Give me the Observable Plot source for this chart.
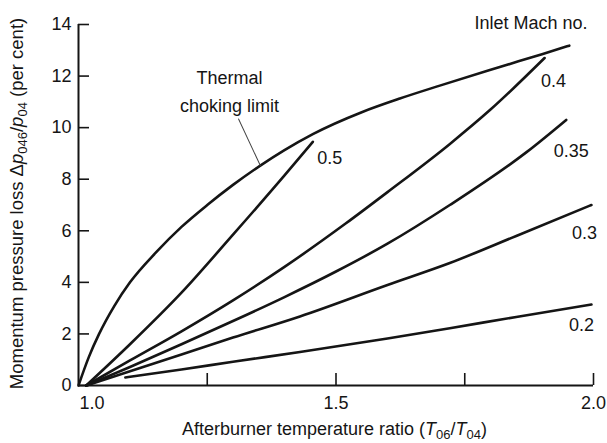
<!DOCTYPE html>
<html><head><meta charset="utf-8">
<script src="https://cdn.jsdelivr.net/npm/d3@7"></script>
<script src="https://cdn.jsdelivr.net/npm/@observablehq/plot@0.6"></script>
<style>
body{margin:0;background:#fff}
#chart svg{font-family:"Liberation Sans",Arial,Helvetica,sans-serif;background:#fff}
</style>
</head><body><div id="chart"></div>
<script>
// ---- data ----
const chokingT    = [1.0, 1.02, 1.04, 1.07, 1.1, 1.15, 1.2, 1.25, 1.3, 1.353, 1.4, 1.455, 1.55, 1.624, 1.7, 1.818, 1.9, 1.953];
const chokingLoss = [0, 1.1, 2.0, 3.1, 4.0, 5.15, 6.15, 7.0, 7.78, 8.53, 9.13, 9.75, 10.6, 11.13, 11.62, 12.35, 12.85, 13.18];

const mach05T    = [1.015, 1.1, 1.2, 1.3, 1.4, 1.455];
const mach05Loss = [0, 1.6, 3.6, 5.85, 8.15, 9.45];

const mach04T    = [1.015, 1.1, 1.2, 1.3, 1.4, 1.52, 1.6, 1.72, 1.8, 1.905];
const mach04Loss = [0, 0.97, 2.1, 3.3, 4.6, 6.3, 7.5, 9.35, 10.7, 12.7];

const mach035T    = [1.015, 1.1, 1.2, 1.3, 1.4, 1.5, 1.6, 1.721, 1.87, 1.947];
const mach035Loss = [0, 0.72, 1.6, 2.5, 3.43, 4.42, 5.5, 7.0, 9.05, 10.3];

const mach03T    = [1.015, 1.1, 1.2, 1.3, 1.43, 1.6, 1.721, 1.85, 1.996];
const mach03Loss = [0, 0.55, 1.2, 1.86, 2.68, 3.9, 4.75, 5.8, 7.0];

const mach02T    = [1.091, 1.2, 1.3, 1.43, 1.6, 1.721, 1.85, 1.996];
const mach02Loss = [0.31, 0.62, 0.92, 1.3, 1.82, 2.22, 2.66, 3.14];

const machLabels = ["0.5", "0.4", "0.35", "0.3", "0.2"];
const yTicks = [0, 2, 4, 6, 8, 10, 12, 14];
const xTickMarks = [1.25, 1.5, 1.75, 2.0];
const xTickLabels = [1.0, 1.5, 2.0];
const xDomain = [1.0, 2.0];
const yDomain = [0, 14];

// ---- build tables ----
const seriesT = [mach05T, mach04T, mach035T, mach03T, mach02T];
const seriesLoss = [mach05Loss, mach04Loss, mach035Loss, mach03Loss, mach02Loss];
const rows = [];
machLabels.forEach((m, i) => seriesT[i].forEach((t, j) => rows.push({mach: m, T: t, loss: seriesLoss[i][j]})));
const chokingRows = chokingT.map((t, j) => ({T: t, loss: chokingLoss[j]}));

// label offsets (px) from each curve's end
const labelOffsets = {"0.5": [17, 16], "0.4": [9, 23], "0.35": [5, 31], "0.3": [-7, 28], "0.2": [-10, 21]};

const W = 607, H = 443, mL = 78, mR = 14, mT = 24, mB = 58;
const plotW = W - mL - mR, plotH = H - mT - mB;
const ink = "#151515";

const leaderShape = {draw(context, l) { context.moveTo(0, 0); context.lineTo(0, -l); }};

const marks = [
  // axes
  Plot.ruleX([xDomain[0]], {stroke: ink, strokeWidth: 2}),
  Plot.ruleY([yDomain[0]], {stroke: ink, strokeWidth: 2}),
  Plot.tickY(yTicks, {y: d => d, stroke: ink, strokeWidth: 1.6, insetRight: plotW - 11}),
  Plot.tickX(xTickMarks, {x: d => d, stroke: ink, strokeWidth: 1.6, insetTop: plotH - 12}),
  Plot.text(yTicks, {y: d => d, frameAnchor: "left", dx: -7, textAnchor: "end", lineAnchor: "middle", text: d => String(d), fill: ink, fontSize: 18}),
  Plot.text(xTickLabels.slice(0, 1), {x: d => d, frameAnchor: "bottom", dy: 18, textAnchor: "start", lineAnchor: "middle", dx: 1, text: d => d3.format(".1f")(d), fill: ink, fontSize: 18}),
  Plot.text(xTickLabels.slice(1), {x: d => d, frameAnchor: "bottom", dy: 18, textAnchor: "middle", lineAnchor: "middle", text: d => d3.format(".1f")(d), fill: ink, fontSize: 18}),
  // curves
  Plot.line(chokingRows, {x: "T", y: "loss", curve: "monotone-x", stroke: ink, strokeWidth: 2.6}),
  Plot.line(rows, {x: "T", y: "loss", z: "mach", curve: "monotone-x", stroke: ink, strokeWidth: 2.6}),
  // curve labels
  ...machLabels.map(m => {
    const last = rows.filter(r => r.mach === m).at(-1);
    return Plot.text([last], {x: "T", y: "loss", text: "mach", dx: labelOffsets[m][0], dy: labelOffsets[m][1], fill: ink, fontSize: 18});
  }),
  // annotations
  Plot.text(["Inlet Mach no."], {frameAnchor: "top-right", textAnchor: "end", lineAnchor: "middle", dx: -6, dy: -1, fill: ink, fontSize: 18}),
  Plot.text(["Thermal\nchoking limit"], {frameAnchor: "top-left", textAnchor: "middle", lineAnchor: "middle", dx: 151, dy: 64.5, lineHeight: 1.55, fill: ink, fontSize: 18}),
  Plot.vector([chokingRows[9]], {x: "T", y: "loss", length: 51.4, rotate: -25, anchor: "start", shape: leaderShape, stroke: "#444", strokeWidth: 1}),
  // axis titles (rewritten below with italics/subscripts)
  Plot.text(["Momentum pressure loss \u0394p046/p04 (per cent)"], {frameAnchor: "left", textAnchor: "middle", lineAnchor: "middle", dx: -61, dy: -1.5, rotate: -90, fill: ink, fontSize: 18.5, className: "ylab"}),
  Plot.text(["Afterburner temperature ratio (T06/T04)"], {frameAnchor: "bottom", textAnchor: "middle", lineAnchor: "middle", dx: -1.5, dy: 44, fill: ink, fontSize: 18, className: "xlab"})
];

const chart = Plot.plot({
  width: W, height: H,
  marginLeft: mL, marginRight: mR, marginTop: mT, marginBottom: mB,
  x: {domain: xDomain, axis: null},
  y: {domain: yDomain, axis: null},
  style: {fontFamily: '"Liberation Sans", Arial, sans-serif', fontSize: "18px", background: "#fff", color: ink},
  marks
});
document.getElementById("chart").append(chart);

// rich text for axis titles
function richen(sel, parts) {
  d3.select(chart).selectAll(sel + " text").each(function() {
    const t = d3.select(this);
    t.text(null);
    let shifted = false;
    parts.forEach(([s, kind]) => {
      const sp = t.append("tspan").text(s);
      if (kind === "i") sp.attr("font-style", "italic");
      if (kind === "sub") { sp.attr("font-size", 13).attr("dy", 4); shifted = true; }
      else if (shifted) { sp.attr("dy", -4); shifted = false; }
    });
  });
}
richen(".ylab", [["Momentum pressure loss \u0394"], ["p", "i"], ["046", "sub"], ["/"], ["p", "i"], ["04", "sub"], [" (per cent)"]]);
richen(".xlab", [["Afterburner temperature ratio ("], ["T", "i"], ["06", "sub"], ["/"], ["T", "i"], ["04", "sub"], [")"]]);
</script>
</body></html>
